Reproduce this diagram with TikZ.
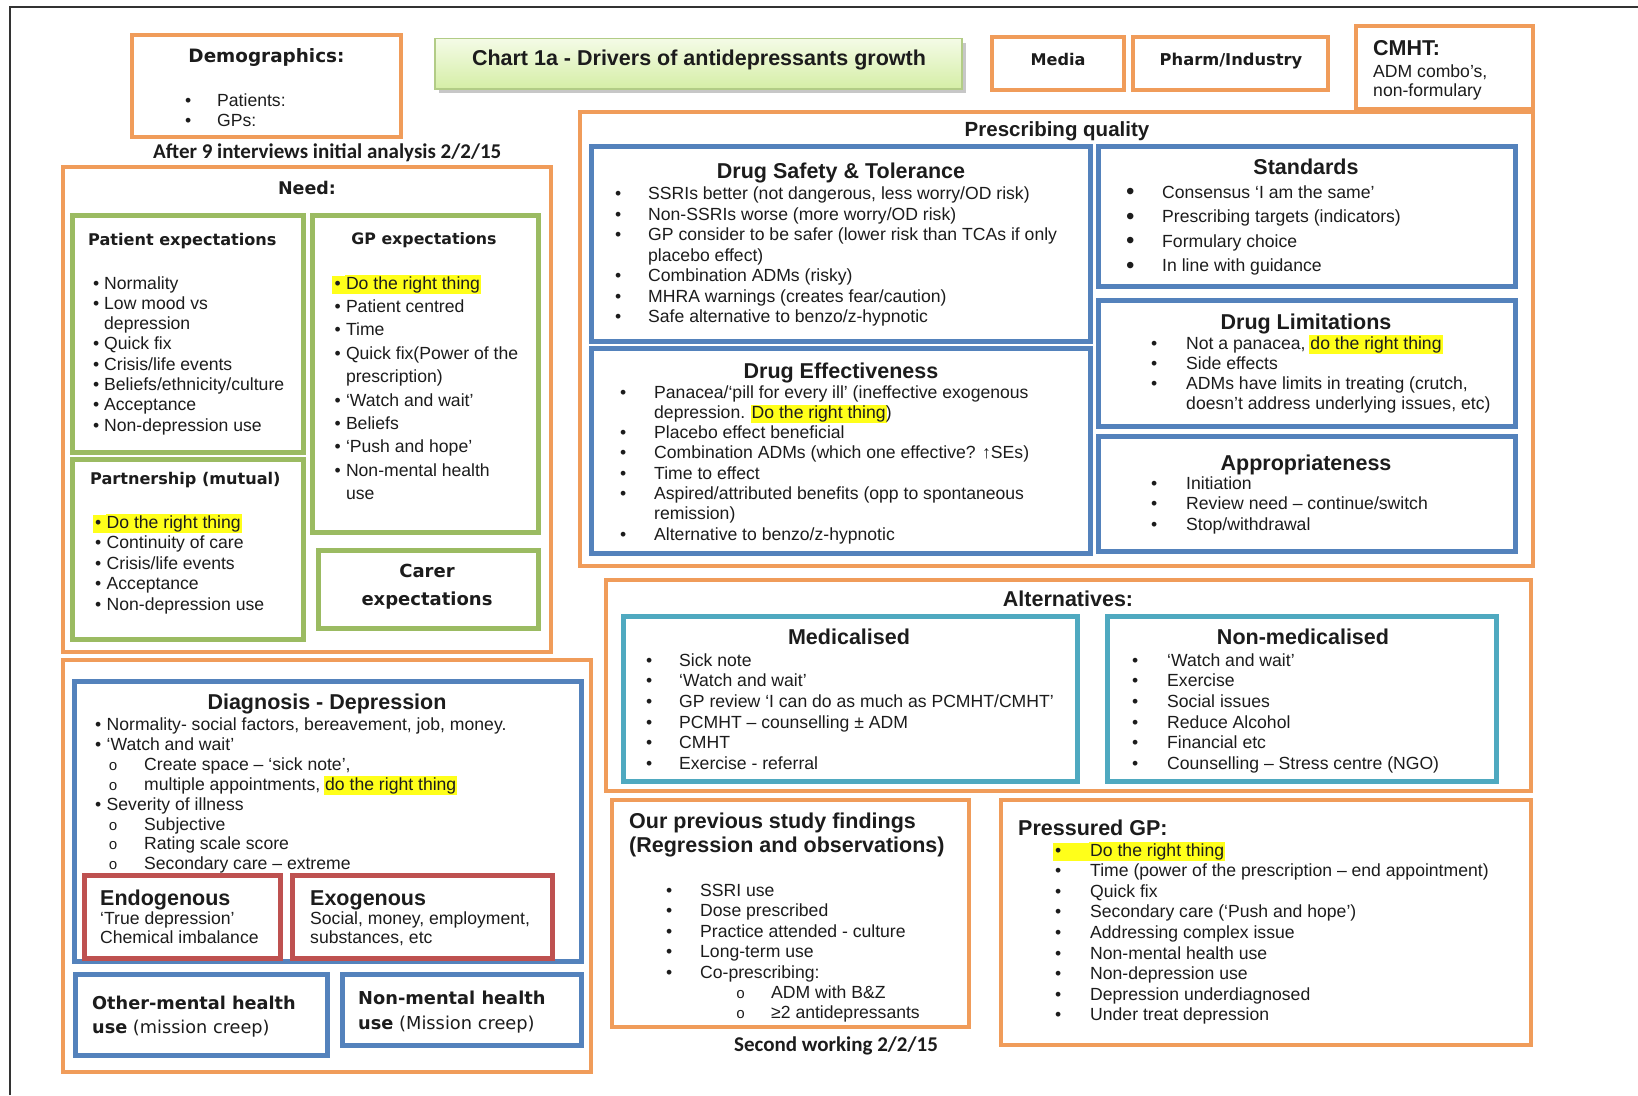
\documentclass[tikz,border=0pt]{standalone}
\usepackage{fontspec}
\setmainfont{Liberation Sans}
\newfontfamily\tahfont{DejaVu Sans}
\newfontfamily\calfont{Carlito}
\newfontfamily\monofont{Liberation Mono}

\definecolor{orangec}{HTML}{F09C5A}
\definecolor{bluec}{HTML}{5482BC}
\definecolor{greenc}{HTML}{9BBB62}
\definecolor{redc}{HTML}{BE5150}
\definecolor{tealc}{HTML}{4FA9C0}
\definecolor{hly}{HTML}{FFFF1A}
\definecolor{inkc}{HTML}{1C1C1C}
\definecolor{titletop}{HTML}{F4FBE6}
\definecolor{titlebot}{HTML}{D5EEA6}
\definecolor{titleedge}{HTML}{B2CC86}
\definecolor{framec}{HTML}{333333}

% font sizes (1pt = one pixel of the drawing)
\newcommand\bodyfont{\fontsize{17.6}{20.5}\selectfont}
\newcommand\headfont{\fontsize{21.5}{24}\selectfont\bfseries}
\newcommand\tahbold[1]{\tahfont\fontsize{#1}{#1}\selectfont\bfseries}

% list marks
\newcommand\blt{\textbullet}
\newcommand\bigblt{\raisebox{-1.5pt}{\fontsize{24}{24}\selectfont\textbullet}}
\newcommand\cir{{\monofont\fontsize{15}{15}\selectfont o}}
% yellow text highlight
\newcommand\hlt[1]{{\fboxsep=1pt\kern-1pt\colorbox{hly}{\vphantom{Ay}#1}\kern-1pt}}
% highlighted bullet: left kern, box width
\newcommand\hlm[2]{\kern-#1\hlt{\makebox[#2][l]{\hspace{#1}\blt}}}

% one list: name, mark x, text x, first baseline, line pitch, mark/text pairs
\newcommand\itemlist[6]{%
  \foreach \mk/\tx [count=\i from 0] in {#6}{%
    \pgfmathsetmacro\yy{#4+\i*#5}%
    \node[txt] (#1-m\i) at (#2,\yy) {\mk};
    \node[txt] (#1-t\i) at (#3,\yy) {\tx};
  }}

\begin{document}
\begin{tikzpicture}[x=1pt,y=-1pt,
  txt/.style={anchor=base west, inner sep=0pt, text=inkc},
  ctr/.style={anchor=base, inner sep=0pt, text=inkc},
  obox/.style={draw=orangec, line width=4pt},
  bbox/.style={draw=bluec, line width=5pt},
  gbox/.style={draw=greenc, line width=5pt},
  rbox/.style={draw=redc, line width=5pt},
  tbox/.style={draw=tealc, line width=5pt}]
\useasboundingbox (0,0) rectangle (1638,1095);
\fill[white] (0,0) rectangle (1638,1095);
\draw[framec, line width=1.5pt] (10,1095) -- (10,7) -- (1638,7);

% ---------- boxes ----------
\draw[obox] (132,34.5) rectangle (401,137);
\fill[black!22] (439,43) rectangle (966,93);
\draw[titleedge, line width=1.5pt, top color=titletop, bottom color=titlebot] (435,38.7) rectangle (962,88.8);
\draw[obox] (992,36.6) rectangle (1124,89.8);
\draw[obox] (1133,36.6) rectangle (1328,89.8);
\draw[obox] (1356,26) rectangle (1533,108.6);

\draw[obox] (63,167) rectangle (551,652);
\draw[gbox] (72,215) rectangle (303,452);
\draw[gbox] (72,459.6) rectangle (303,639);
\draw[gbox] (312,215) rectangle (538,532.7);
\draw[gbox] (318,550.5) rectangle (538,628);

\draw[obox] (580,111.8) rectangle (1533,566);
\draw[bbox] (591,146) rectangle (1090,341.6);
\draw[bbox] (591,348) rectangle (1090,553.6);
\draw[bbox] (1098,146) rectangle (1515,286);
\draw[bbox] (1098,300) rectangle (1515,426);
\draw[bbox] (1098,436) rectangle (1515,551);

\draw[obox] (606,580) rectangle (1531,791);
\draw[tbox] (623,616) rectangle (1077,781);
\draw[tbox] (1107,616) rectangle (1496,781);

\draw[obox] (63,660) rectangle (591,1072);
\draw[bbox] (74,681) rectangle (581,961);
\draw[rbox] (84,875) rectangle (280,958);
\draw[rbox] (292,875) rectangle (552,958);
\draw[bbox] (75,974) rectangle (327,1055);
\draw[bbox] (342,974) rectangle (581,1045);

\draw[obox] (612,800) rectangle (969,1027);
\draw[obox] (1001,800) rectangle (1531,1045);

% ---------- headings ----------
\node[ctr, font=\tahbold{18.4}] (demo) at (266.5,62) {Demographics:};
\node[ctr, font=\headfont] (title) at (699,65) {Chart 1a - Drivers of antidepressants growth};
\node[ctr, font=\tahbold{16.1}] (media) at (1058,65.5) {Media};
\node[ctr, font=\tahbold{16.3}] (pharm) at (1231,65.5) {Pharm/Industry};
\node[txt, font=\headfont] (cmht) at (1373,55.5) {CMHT:};
\node[txt, font=\bodyfont] (cmht-1) at (1373,77.5) {ADM combo's,};
\node[txt, font=\bodyfont] (cmht-2) at (1373,96.5) {non-formulary};

\node[txt, font=\calfont\fontsize{21}{21}\selectfont\bfseries] (after) at (153,158) {After 9 interviews initial analysis 2/2/15};
\node[ctr, font=\tahbold{17.5}] (need) at (307,194.5) {Need:};
\node[txt, font=\tahbold{16.1}] (pexp) at (88,245) {Patient expectations};
\node[txt, font=\tahbold{16.1}] (part) at (90,484.5) {Partnership (mutual)};
\node[ctr, font=\tahbold{15.8}] (gexp) at (424,244) {GP expectations};
\node[ctr, font=\tahbold{18}] (carer1) at (427,577.5) {Carer};
\node[ctr, font=\tahbold{18}] (carer2) at (427,605.5) {expectations};

\node[ctr, font=\fontsize{20.5}{22}\selectfont\bfseries] (presc) at (1057,136.5) {Prescribing quality};
\node[ctr, font=\headfont] (dst) at (841,178.5) {Drug Safety \& Tolerance};
\node[ctr, font=\headfont] (deff) at (841,378.5) {Drug Effectiveness};
\node[ctr, font=\headfont] (std) at (1306,174.5) {Standards};
\node[ctr, font=\headfont] (dlim) at (1306,329.5) {Drug Limitations};
\node[ctr, font=\headfont] (appr) at (1306,470.5) {Appropriateness};

\node[ctr, font=\headfont] (alt) at (1068,606) {Alternatives:};
\node[ctr, font=\headfont] (med) at (849,644.5) {Medicalised};
\node[ctr, font=\headfont] (nmed) at (1303,644.5) {Non-medicalised};

\node[ctr, font=\headfont] (diag) at (327,709.5) {Diagnosis - Depression};
\node[txt, font=\headfont] (endo) at (100,905.5) {Endogenous};
\node[txt, font=\headfont] (exo) at (310,905.5) {Exogenous};
\node[txt, font=\tahbold{17.7}] (omh1) at (92,1009) {Other-mental health};
\node[txt, font=\tahfont\fontsize{17.7}{17.7}\selectfont] (omh2) at (92,1033) {\textbf{use} (mission creep)};
\node[txt, font=\tahbold{17.8}] (nmh1) at (358,1004) {Non-mental health};
\node[txt, font=\tahfont\fontsize{17.8}{17.8}\selectfont] (nmh2) at (358,1029) {\textbf{use} (Mission creep)};

\node[txt, font=\headfont] (prev1) at (629,828.5) {Our previous study findings};
\node[txt, font=\headfont] (prev2) at (629,852.5) {(Regression and observations)};
\node[ctr, font=\calfont\fontsize{21}{21}\selectfont\bfseries] (second) at (836,1051) {Second working 2/2/15};
\node[txt, font=\headfont] (pgp) at (1018,835.5) {Pressured GP:};

% ---------- lists ----------
\begin{scope}[font=\bodyfont]
\itemlist{demo}{185}{217}{106.5}{20}{\blt/{Patients:},\blt/{GPs:}}

\itemlist{pexp}{93}{104}{289}{20.3}{\blt/{Normality},\blt/{Low mood vs},{}/{depression},
  \blt/{Quick fix},\blt/{Crisis/life events},\blt/{Beliefs/ethnicity/culture},
  \blt/{Acceptance},\blt/{Non-depression use}}

\itemlist{part}{95}{106.5}{528}{20.5}{\hlm{1.5pt}{13pt}/{\hlt{Do the right thing}},
  \blt/{Continuity of care},\blt/{Crisis/life events},\blt/{Acceptance},
  \blt/{Non-depression use}}

\itemlist{gexp}{334.3}{345.8}{289}{23.4}{\hlm{1.5pt}{13pt}/{\hlt{Do the right thing}},
  \blt/{Patient centred},\blt/{Time},\blt/{Quick fix(Power of the},{}/{prescription)},
  \blt/{`Watch and wait'},\blt/{Beliefs},\blt/{`Push and hope'},
  \blt/{Non-mental health},{}/{use}}

\itemlist{dst}{615}{648}{199.5}{20.5}{\blt/{SSRIs better (not dangerous, less worry/OD risk)},
  \blt/{Non-SSRIs worse (more worry/OD risk)},
  \blt/{GP consider to be safer (lower risk than TCAs if only},{}/{placebo effect)},
  \blt/{Combination ADMs (risky)},\blt/{MHRA warnings (creates fear/caution)},
  \blt/{Safe alternative to benzo/z-hypnotic}}

\itemlist{deff}{620}{654}{398}{20.3}{\blt/{Panacea/`pill for every ill' (ineffective exogenous},
  {}/{depression. \hlt{Do the right thing})},\blt/{Placebo effect beneficial},
  \blt/{Combination ADMs (which one effective? ↑SEs)},\blt/{Time to effect},
  \blt/{Aspired/attributed benefits (opp to spontaneous},{}/{remission)},
  \blt/{Alternative to benzo/z-hypnotic}}

\itemlist{std}{1126}{1162}{198}{24.5}{\bigblt/{Consensus `I am the same'},
  \bigblt/{Prescribing targets (indicators)},\bigblt/{Formulary choice},
  \bigblt/{In line with guidance}}

\itemlist{dlim}{1151}{1186}{349}{20.3}{\blt/{Not a panacea, \hlt{do the right thing}},
  \blt/{Side effects},\blt/{ADMs have limits in treating (crutch,},
  {}/{doesn't address underlying issues, etc)}}

\itemlist{appr}{1151}{1186}{489}{20.5}{\blt/{Initiation},
  \blt/{Review need – continue/switch},\blt/{Stop/withdrawal}}

\itemlist{med}{646}{679}{666}{20.7}{\blt/{Sick note},\blt/{`Watch and wait'},
  \blt/{GP review `I can do as much as PCMHT/CMHT'},\blt/{PCMHT – counselling ± ADM},
  \blt/{CMHT},\blt/{Exercise - referral}}

\itemlist{nmed}{1132}{1167}{666}{20.7}{\blt/{`Watch and wait'},\blt/{Exercise},
  \blt/{Social issues},\blt/{Reduce Alcohol},\blt/{Financial etc},
  \blt/{Counselling – Stress centre (NGO)}}

\itemlist{diag}{95}{106.5}{730}{20}{\blt/{Normality- social factors, bereavement, job, money.},
  \blt/{`Watch and wait'}}
\itemlist{diags}{108.5}{144}{770}{20}{\cir/{Create space – `sick note',},
  \cir/{multiple appointments, \hlt{do the right thing}}}
\itemlist{sev}{95}{106.5}{810}{20}{\blt/{Severity of illness}}
\itemlist{sevs}{108.5}{144}{830}{19.7}{\cir/{Subjective},\cir/{Rating scale score},
  \cir/{Secondary care – extreme}}

\itemlist{endo}{100}{100}{924}{19}{{}/{`True depression'},{}/{Chemical imbalance}}
\itemlist{exo}{310}{310}{924}{19}{{}/{Social, money, employment,},{}/{substances, etc}}

\itemlist{prev}{666}{700}{896}{20.6}{\blt/{SSRI use},\blt/{Dose prescribed},
  \blt/{Practice attended - culture},\blt/{Long-term use},\blt/{Co-prescribing:}}
\itemlist{prevs}{736}{771}{998}{20}{\cir/{ADM with B\&Z},\cir/{≥2 antidepressants}}

\itemlist{pgp}{1055}{1090}{856}{20.6}{\hlm{1pt}{36pt}/{\hlt{Do the right thing}},
  \blt/{Time (power of the prescription – end appointment)},\blt/{Quick fix},
  \blt/{Secondary care (`Push and hope')},\blt/{Addressing complex issue},
  \blt/{Non-mental health use},\blt/{Non-depression use},
  \blt/{Depression underdiagnosed},\blt/{Under treat depression}}
\end{scope}
\end{tikzpicture}
\end{document}
